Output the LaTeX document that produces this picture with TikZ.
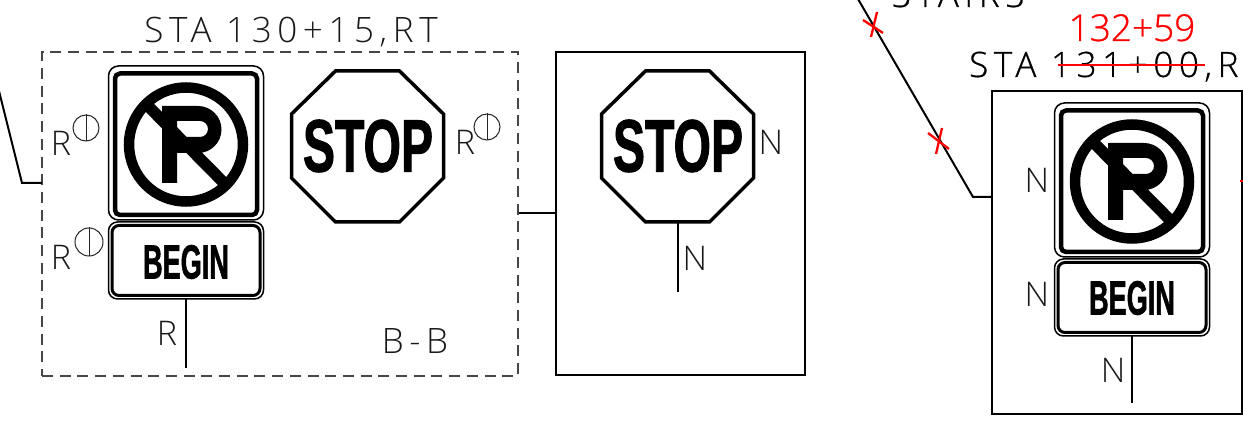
\documentclass[tikz,border=0pt]{standalone}
\usepackage{fontspec}
\setmainfont{Liberation Sans}
\newfontfamily\cadfont[LetterSpace=16]{Open Sans Light}
\newfontfamily\cadboldish[LetterSpace=16,FakeBold=0.6]{Open Sans Light}
\newfontfamily\cadplain{Open Sans Light}
\newfontfamily\cadred[FakeBold=0.8]{Open Sans Light}
\newfontfamily\signfont[FakeBold=1.6]{Liberation Sans Bold}
\definecolor{redlin}{RGB}{255,0,0}
\definecolor{dashgray}{RGB}{70,70,70}
\tikzset{
  solidbox/.style={draw=black,line width=2pt,rectangle,inner sep=0pt},
  dashbox/.style={draw=dashgray,line width=1.6pt,rectangle,inner sep=0pt,dash pattern=on 11pt off 6.7pt},
  wire/.style={draw=black,line width=2pt,line join=miter},
  redmark/.style={draw=redlin,line width=2.3pt},
  cadtext/.style={font=\cadfont\fontsize{35}{35}\selectfont,anchor=base,inner sep=0pt,text=black!90},
  cadstrong/.style={font=\cadboldish\fontsize{35}{35}\selectfont,anchor=base,inner sep=0pt,text=black},
  letter/.style={font=\cadplain\fontsize{34}{34}\selectfont,anchor=base,inner sep=0pt,text=black!90},
  phase/.style={circle,draw=black!85,line width=1pt,inner sep=0pt,minimum size=#1},
  stoptext/.style={font=\signfont\fontsize{74}{74}\selectfont,xscale=.65,transform shape,inner sep=0pt,anchor=center},
  begintext/.style={font=\signfont\fontsize{48}{48}\selectfont,xscale=.565,transform shape,inner sep=0pt,anchor=center},
  pics/noparking/.style={code={
    \draw[line width=1.5pt,rounded corners=10pt] (-77.5,-78) rectangle (77.5,76);
    \draw[line width=4.5pt,rounded corners=5pt] (-71,-70.5) rectangle (71,71);
    \draw[line width=10.5pt] (0,0.5) circle (57);
    \fill[even odd rule] (-24,-38) -- (12,-38) arc (-90:90:23.5) -- (-9,9) -- (-9,39) -- (-24,39) -- cycle
      (-9,-23) -- (14,-23) arc (-90:90:8) -- (-9,-7) -- cycle;
    \draw[line width=11.5pt] (-39,-39) -- (40,41);
  }},
  pics/beginplate/.style={code={
    \draw[line width=1.5pt,rounded corners=9pt] (-77.5,-38.5) rectangle (77.5,38.5);
    \draw[line width=3pt,rounded corners=7pt] (-74,-35) rectangle (74,35);
  }},
  pics/octagon/.style={code={
    \draw[line width=3.5pt,line join=miter] (-32,-75) -- (32,-75) -- (76,-32) -- (76,32) -- (32,76) -- (-32,76) -- (-76,32) -- (-76,-32) -- cycle;
  }},
}
\begin{document}
\begin{tikzpicture}[x=1pt,y=-1pt]
\path[use as bounding box] (0,0) rectangle (1243,430);
\clip (0,0) rectangle (1243,430);
% frames
\node[dashbox,minimum width=476pt,minimum height=324pt] (bb) at (280,214) {};
\node[solidbox,minimum width=249pt,minimum height=323pt] (mid) at (680.5,213.5) {};
\node[solidbox,minimum width=250pt,minimum height=323pt] (rbox) at (1116.5,252.5) {};
\draw[wire] (bb.east |- mid.west) -- (mid.west);
% leaders
\coordinate (la) at (-3,83);
\coordinate (lb) at (22,183);
\coordinate (lc) at (42,183);
\draw[wire] (la) -- (lb) -- (lc);
\coordinate (ra) at (858,-1);
\coordinate (rb) at (973,197);
\coordinate (rc) at (992,197);
\draw[wire] (ra) -- (rb) -- (rc);
% left group
\pic at (186,144) {noparking};
\pic at (186,260.5) {beginplate};
\node[begintext] (begl) at (186,262) {BEGIN};
\coordinate (pl1) at (186,299);
\coordinate (pl2) at (186,368);
\draw[wire] (pl1) -- (pl2);
\pic at (367.5,146) {octagon};
\node[stoptext] (stopl) at (368,146) {STOP};
% middle group
\pic at (677.5,146) {octagon};
\node[stoptext] (stopm) at (678,146) {STOP};
\coordinate (pm1) at (678,222);
\coordinate (pm2) at (678,292);
\draw[wire] (pm1) -- (pm2);
% right group
\pic at (1132,181) {noparking};
\pic at (1132,297.5) {beginplate};
\node[begintext] (begr) at (1132,298) {BEGIN};
\coordinate (pr1) at (1132,336);
\coordinate (pr2) at (1132,403);
\draw[wire] (pr1) -- (pr2);
% letters
\node[letter] (r1) at (61,156) {R};
\node[phase=26pt] (p1) at (86,128) {};
\draw[black!85,line width=1pt] (p1.north) -- (p1.south);
\node[letter] (r2) at (61,270) {R};
\node[phase=28pt] (p2) at (89,242) {};
\draw[black!85,line width=1pt] (p2.north) -- (p2.south);
\node[letter] (r3) at (465,155) {R};
\node[phase=26pt] (p3) at (487,127) {};
\draw[black!85,line width=1pt] (p3.north) -- (p3.south);
\node[letter] (r4) at (167,346) {R};
\node[letter] (n1) at (771,155) {N};
\node[letter] (n2) at (695,271) {N};
\node[letter] (n3) at (1037,193) {N};
\node[letter] (n4) at (1037,307) {N};
\node[letter] (n5) at (1113,383) {N};
% titles
\node[cadtext] (t1) at (291,43) {STA 130+15,RT};
\node[cadtext] (t2) at (415,354) {B-B};
\node[cadstrong,anchor=base west] (t3) at (969,77) {STA 131+00,R};
\node[cadstrong] (t4) at (958,7) {STAIRS};
\node[cadtext,text=redlin,font=\cadred\fontsize{37}{37}\selectfont] (t5) at (1132,41) {132+59};
% red marks
\draw[redmark] (1058,65) -- (1205,65);
\draw[redmark] (863,20) -- (883,33);
\draw[redmark] (877,12) -- (871,37);
\draw[redmark] (928,133) -- (949,149);
\draw[redmark] (942,128) -- (936,154);
\draw[redmark] (1240,181) -- (1244,181);
\end{tikzpicture}
\end{document}
